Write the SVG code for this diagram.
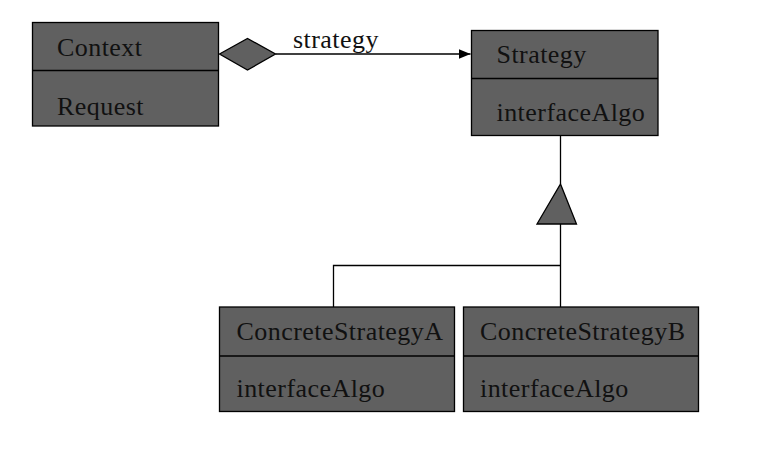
<svg xmlns="http://www.w3.org/2000/svg" width="772" height="470" viewBox="0 0 772 470">
<defs>
<style>
.box{fill:#606060;stroke:#000;stroke-width:1.3}
.div{stroke:#000;stroke-width:1.3}
.t{font-family:"Liberation Serif","Times New Roman",serif;font-size:26px;letter-spacing:0.45px;fill:#111}
.ln{stroke:#000;stroke-width:1.3;fill:none}
</style>
<marker id="arr" viewBox="0 0 12 10" refX="12" refY="5" markerWidth="12" markerHeight="10" markerUnits="userSpaceOnUse" orient="auto">
<path d="M0,0 L12,5 L0,10 Z" fill="#000"/>
</marker>
</defs>
<rect width="772" height="470" fill="#fff"/>
<g id="connectors">
<path class="ln" d="M275.5,54 L470.5,54" marker-end="url(#arr)"/>
<polygon points="219.5,54 247.5,38.5 275.5,54 247.5,70" fill="#606060" stroke="#000" stroke-width="1.3"/>
<text class="t" x="293" y="48">strategy</text>
<path class="ln" d="M560.5,135.5 L560.5,184"/>
<polygon points="560.5,184 576.5,224 537,224" fill="#606060" stroke="#000" stroke-width="1.3"/>
<path class="ln" d="M560.5,224 L560.5,307"/>
<path class="ln" d="M333.5,307 L333.5,265.5 L560.5,265.5"/>
</g>
<g id="context">
<rect class="box" x="32.5" y="22.5" width="186" height="103.5"/>
<line class="div" x1="32.5" y1="70.5" x2="218.5" y2="70.5"/>
<text class="t" x="57" y="56">Context</text>
<text class="t" x="57" y="115">Request</text>
</g>
<g id="strategy">
<rect class="box" x="471.5" y="30.5" width="186.5" height="105"/>
<line class="div" x1="471.5" y1="78.5" x2="658" y2="78.5"/>
<text class="t" x="496.5" y="63">Strategy</text>
<text class="t" x="496.5" y="121">interfaceAlgo</text>
</g>
<g id="concreteA">
<rect class="box" x="219.5" y="307" width="235" height="104.5"/>
<line class="div" x1="219.5" y1="356" x2="454.5" y2="356"/>
<text class="t" x="236.5" y="340">ConcreteStrategyA</text>
<text class="t" x="236.5" y="397">interfaceAlgo</text>
</g>
<g id="concreteB">
<rect class="box" x="463.5" y="307" width="235" height="104.5"/>
<line class="div" x1="463.5" y1="356" x2="698.5" y2="356"/>
<text class="t" x="480" y="340">ConcreteStrategyB</text>
<text class="t" x="480" y="397">interfaceAlgo</text>
</g>
</svg>
